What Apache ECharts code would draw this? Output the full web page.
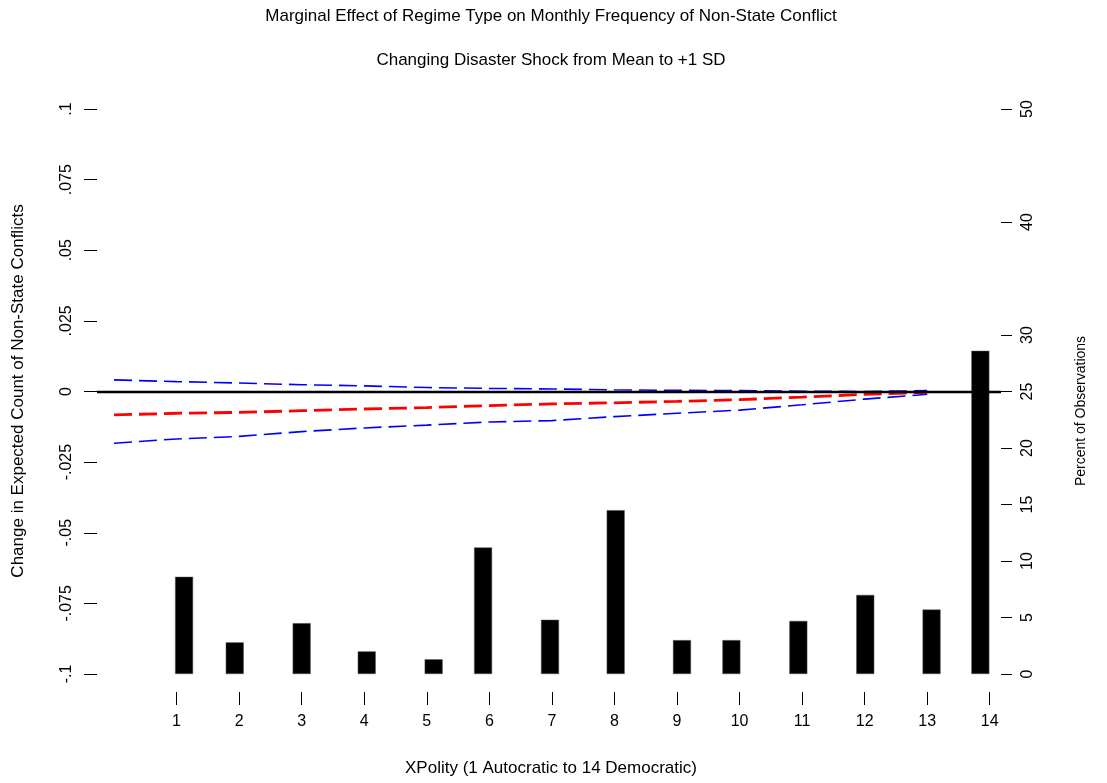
<!DOCTYPE html>
<html>
<head>
<meta charset="utf-8">
<script src="https://cdn.jsdelivr.net/npm/echarts@6/dist/echarts.min.js"></script>
<style>
html,body{margin:0;padding:0;background:#fff;}
#chart{width:1107px;height:783px;}
</style>
</head>
<body>
<div id="chart"></div>
<script>
// ---- data ----
var lineX = [0,1,2,3,4,5,6,7,8,9,10,11,12,13];
var effect = [-0.0083,-0.0077,-0.0074,-0.0068,-0.0062,-0.0057,-0.0050,-0.0044,-0.0040,-0.0035,-0.0029,-0.0020,-0.0010,-0.0003];
var upperCI = [0.0041,0.0035,0.0030,0.0024,0.0020,0.0014,0.0011,0.0009,0.0006,0.0004,0.0003,0.0001,0.0000,0.0003];
var lowerCI = [-0.0183,-0.0168,-0.0159,-0.0142,-0.0129,-0.0119,-0.0108,-0.0103,-0.0089,-0.0077,-0.0066,-0.0047,-0.0027,-0.0010];
var barX = [1.12,1.93,3.00,4.04,5.11,5.90,6.97,8.02,9.08,9.87,10.94,12.01,13.07,13.85];
var barPct = [8.6,2.8,4.5,2.0,1.3,11.2,4.8,14.5,3.0,3.0,4.7,7.0,5.7,28.6];
var xTicks = [1,2,3,4,5,6,7,8,9,10,11,12,13,14];
var rightTicks = [0,5,10,15,20,25,30,40,50];
var titleMain = 'Marginal Effect of Regime Type on Monthly Frequency of Non-State Conflict';
var titleSub = 'Changing Disaster Shock from Mean to +1 SD';
var xTitle = 'XPolity (1 Autocratic to 14 Democratic)';
var yLeftTitle = 'Change in Expected Count of Non-State Conflicts';
var yRightTitle = 'Percent of Observations';

function pair(xs, ys){ return xs.map(function(x,i){ return [x, ys[i]]; }); }
function fmtLeft(v){
  var r = Math.round(v*1000)/1000;
  if (r === 0) return '0';
  var s = String(r);
  return s.replace('-0.', '-.').replace(/^0\./, '.');
}

var FONT = 'Liberation Sans';
var chart = echarts.init(document.getElementById('chart'));
chart.setOption({
  animation: false,
  backgroundColor: '#fff',
  textStyle: {fontFamily: FONT, color: '#000'},
  grid: {left: 97, right: 106, top: 109, bottom: 109, containLabel: false},
  xAxis: {
    type: 'value', min: -0.272, max: 14.18, offset: 18, position: 'bottom',
    axisLine: {show: false, onZero: false},
    splitLine: {show: false},
    axisTick: {show: true, length: 13, customValues: xTicks, lineStyle: {color: '#000', width: 1}},
    axisLabel: {customValues: xTicks, color: '#000', fontSize: 16, fontFamily: FONT, margin: 22}
  },
  yAxis: [{
    type: 'value', min: -0.1, max: 0.1, interval: 0.025, position: 'left',
    axisLine: {show: false, onZero: false},
    splitLine: {show: false},
    axisTick: {show: true, length: 13, lineStyle: {color: '#000', width: 1}},
    axisLabel: {rotate: 90, color: '#000', fontSize: 16, fontFamily: FONT, margin: 22, formatter: fmtLeft}
  }, {
    type: 'value', min: 0, max: 50, position: 'right',
    axisLine: {show: false, onZero: false},
    splitLine: {show: false},
    axisTick: {show: true, length: 11, customValues: rightTicks, lineStyle: {color: '#000', width: 1}},
    axisLabel: {rotate: 90, customValues: rightTicks, color: '#000', fontSize: 16, fontFamily: FONT, margin: 19}
  }],
  series: [{
    type: 'bar', yAxisIndex: 1, barWidth: 18,
    data: pair(barX, barPct),
    itemStyle: {color: '#000', borderColor: '#555', borderWidth: 0.5},
    z: 1
  }, {
    type: 'line', yAxisIndex: 0, data: pair(lineX, upperCI), symbol: 'none',
    lineStyle: {color: '#0000ff', width: 1.6, type: [18, 7]}, z: 3
  }, {
    type: 'line', yAxisIndex: 0, data: pair(lineX, lowerCI), symbol: 'none',
    lineStyle: {color: '#0000ff', width: 1.6, type: [18, 7]}, z: 3
  }, {
    type: 'line', yAxisIndex: 0, data: pair(lineX, effect), symbol: 'none',
    lineStyle: {color: '#ff0000', width: 2.8, type: [18, 7]}, z: 4,
    markLine: {
      silent: true, symbol: 'none', label: {show: false},
      lineStyle: {color: '#000', width: 2.4, type: 'solid'},
      data: [{yAxis: 0}]
    }
  }],
  graphic: [
    {type: 'text', x: 551, y: 16, style: {text: titleMain, font: '17px "Liberation Sans"', fill: '#000', textAlign: 'center', textVerticalAlign: 'middle'}},
    {type: 'text', x: 551, y: 60, style: {text: titleSub, font: '17px "Liberation Sans"', fill: '#000', textAlign: 'center', textVerticalAlign: 'middle'}},
    {type: 'text', x: 551, y: 768, style: {text: xTitle, font: '17px "Liberation Sans"', fill: '#000', textAlign: 'center', textVerticalAlign: 'middle'}},
    {type: 'text', x: 18, y: 391, rotation: Math.PI/2, style: {text: yLeftTitle, font: '17px "Liberation Sans"', fill: '#000', textAlign: 'center', textVerticalAlign: 'middle'}},
    {type: 'text', x: 1081, y: 411, rotation: Math.PI/2, style: {text: yRightTitle, font: '14px "Liberation Sans"', fill: '#000', textAlign: 'center', textVerticalAlign: 'middle'}}
  ]
});
</script>
</body>
</html>
